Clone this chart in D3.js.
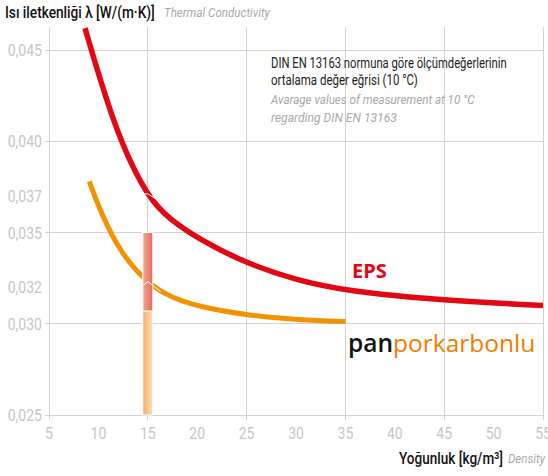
<!DOCTYPE html>
<html>
<head>
<meta charset="utf-8">
<script src="https://cdn.jsdelivr.net/npm/d3@7"></script>
<style>
  body { margin: 0; background: #fff; }
  svg { display: block; }
  .narrow { font-family: "Roboto", "Liberation Sans", sans-serif; }
</style>
</head>
<body>
<div id="chart"></div>
<script>
// density [kg/m3] and thermal conductivity [W/(m.K)]
var epsDensity = [8.64, 10.16, 12.19, 15, 17.25, 20.28, 25, 30, 35, 45, 55];
var epsLambda  = [0.0462, 0.0434, 0.0400, 0.0369, 0.0357, 0.0346, 0.0333, 0.0324, 0.0318, 0.03127, 0.0310];
var panDensity = [9.08, 10.16, 12.19, 15, 17.25, 20.28, 25, 30.4, 35];
var panLambda  = [0.0378, 0.0362, 0.0339, 0.0322, 0.03146, 0.03091, 0.03047, 0.0302, 0.03012];
// bar at 15 kg/m3: upper part and lower part
var barDensity = 15;
var barUpper = [0.0307, 0.035];
var barLower = [0.025, 0.0307];

var xTicks = [5, 10, 15, 20, 25, 30, 35, 40, 45, 50, 55];
var xGrid = [15, 25, 35, 45, 55];
var yGrid = [0.025, 0.030, 0.035, 0.040, 0.045];
var yLabels = [0.025, 0.030, 0.032, 0.035, 0.037, 0.040, 0.045];

var width = 548, height = 476;
var svg = d3.select("#chart").append("svg").attr("width", width).attr("height", height);

var x = d3.scaleLinear().domain([5, 55]).range([49, 543]);
var y = d3.scaleLinear().domain([0.025, 0.045]).range([415, 50]);
var yTop = y(0.04626);
var fmt = function(v) { return d3.format(".3f")(v).replace(".", ","); };

var defs = svg.append("defs");
var g1 = defs.append("linearGradient").attr("id", "gUpper");
g1.append("stop").attr("offset", "0%").attr("stop-color", "#f3a593");
g1.append("stop").attr("offset", "100%").attr("stop-color", "#e9685a");
var g2 = defs.append("linearGradient").attr("id", "gLower");
g2.append("stop").attr("offset", "0%").attr("stop-color", "#f6ae62");
g2.append("stop").attr("offset", "100%").attr("stop-color", "#fde0bb");

// grid
var grid = svg.append("g").attr("stroke", "#d2d2d2").attr("stroke-width", 1).attr("shape-rendering", "crispEdges");
grid.selectAll(".hg").data(yGrid).enter().append("line")
  .attr("x1", x(5) - 4).attr("x2", x(55))
  .attr("y1", function(d) { return y(d); }).attr("y2", function(d) { return y(d); });
grid.append("line").attr("x1", x(5)).attr("x2", x(5)).attr("y1", yTop).attr("y2", y(0.025) + 4);
grid.selectAll(".vg").data(xGrid).enter().append("line")
  .attr("x1", function(d) { return x(d); }).attr("x2", function(d) { return x(d); })
  .attr("y1", yTop).attr("y2", y(0.025) + 5);

// tick labels (condensed by a horizontal scale)
svg.append("g").attr("class", "narrow").attr("font-size", 16.5).attr("fill", "#c6c6c6")
  .attr("text-anchor", "end")
  .selectAll("text").data(yLabels).enter().append("text")
  .attr("transform", function(d) { return "translate(42," + (y(d) + 6) + ") scale(0.85,1)"; })
  .text(fmt);
svg.append("g").attr("class", "narrow").attr("font-size", 16.5).attr("fill", "#c6c6c6")
  .attr("text-anchor", "middle")
  .selectAll("text").data(xTicks).enter().append("text")
  .attr("transform", function(d) { return "translate(" + x(d) + ",439) scale(0.85,1)"; })
  .text(function(d) { return d; });

// curves
var line = d3.line().curve(d3.curveBasis)
  .x(function(d) { return x(d[0]); }).y(function(d) { return y(d[1]); });
svg.append("path").attr("d", line(d3.zip(panDensity, panLambda)))
  .attr("fill", "none").attr("stroke", "#f39200").attr("stroke-width", 5);
svg.append("path").attr("d", line(d3.zip(epsDensity, epsLambda)))
  .attr("fill", "none").attr("stroke", "#e30613").attr("stroke-width", 5.5);

// bar at 15
var bw = 10;
svg.append("rect").attr("x", x(barDensity) - bw / 2).attr("width", bw)
  .attr("y", y(barLower[1])).attr("height", y(barLower[0]) - y(barLower[1]))
  .attr("fill", "url(#gLower)").attr("stroke", "#fff").attr("stroke-width", 1);
svg.append("rect").attr("x", x(barDensity) - bw / 2).attr("width", bw)
  .attr("y", y(barUpper[1])).attr("height", y(barUpper[0]) - y(barUpper[1]))
  .attr("fill", "url(#gUpper)").attr("stroke", "#fff").attr("stroke-width", 1);

// small white markers where the curves cross 15 kg/m3
var px = x(15), pyE = y(epsLambda[epsDensity.indexOf(15)]), pyP = y(panLambda[panDensity.indexOf(15)]);
svg.append("path").attr("d", "M" + (px - 5) + "," + (pyE - 4) + "l5,0l8,5l6,0")
  .attr("fill", "none").attr("stroke", "#fff").attr("stroke-width", 1);
svg.append("path").attr("d", "M" + (px - 5) + "," + (pyP + 2) + "l5,-4l5,4l8,6")
  .attr("fill", "none").attr("stroke", "#fff").attr("stroke-width", 1);

// texts squeezed to the narrow width of the original condensed font
function fitText(sel, x0, y0, txt, len, size, weight, style, color) {
  var t = sel.append("text").attr("class", "narrow")
    .attr("font-size", size).attr("font-weight", weight).attr("font-style", style)
    .attr("fill", color).text(txt);
  var w = t.node().getComputedTextLength();
  t.attr("transform", "translate(" + x0 + "," + y0 + ") scale(" + (len / w) + ",1)");
  return t;
}
fitText(svg, 5, 18, "Isı iletkenliği λ [W/(m·K)]", 150, 17, 500, "normal", "#111");
fitText(svg, 164, 17, "Thermal Conductivity", 106, 13.5, 400, "italic", "#a8a8a8");
fitText(svg, 399, 464, "Yoğunluk [kg/m³]", 104, 16.5, 500, "normal", "#111");
fitText(svg, 508, 463, "Density", 37, 13.5, 400, "italic", "#a8a8a8");

// note
fitText(svg, 271, 68, "DIN EN 13163 normuna göre ölçümdeğerlerinin", 236, 14, 400, "normal", "#222");
fitText(svg, 271, 85, "ortalama değer eğrisi (10 °C)", 147, 14, 400, "normal", "#222");
fitText(svg, 271, 104, "Avarage values of measurement at 10 °C", 204, 13.5, 400, "italic", "#a8a8a8");
fitText(svg, 271, 122, "regarding DIN EN 13163", 126, 13.5, 400, "italic", "#a8a8a8");

// series labels
svg.append("text").attr("x", 352).attr("y", 278).attr("font-family", "'Open Sans', sans-serif")
  .attr("font-size", 20).attr("font-weight", "bold").attr("fill", "#e30613").text("EPS");
var pl = svg.append("text").attr("x", 348).attr("y", 352).attr("font-family", "'Open Sans', sans-serif")
  .attr("font-size", 24.5);
pl.append("tspan").attr("fill", "#111").attr("font-weight", 600).text("pan");
pl.append("tspan").attr("fill", "#f07d00").text("porkarbonlu");
</script>
</body>
</html>
